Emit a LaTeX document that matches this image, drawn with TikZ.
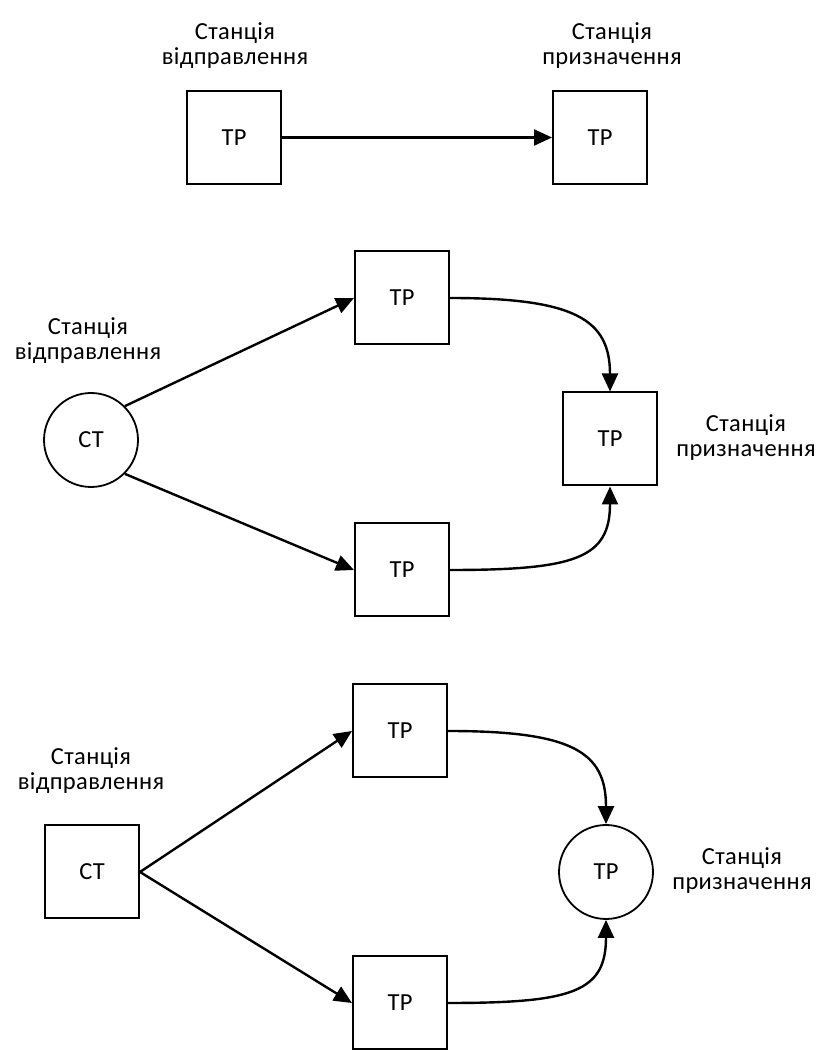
\documentclass[tikz,border=0pt]{standalone}
\usepackage{fontspec}
\setmainfont{Carlito}[LetterSpace=1.5]
\usetikzlibrary{arrows.meta}
\begin{document}
\begin{tikzpicture}[x=1pt,y=1pt,
  every node/.style={font=\fontsize{24.5}{25}\selectfont},
  sq/.style={draw,line width=2pt,minimum width=94pt,minimum height=93pt,inner sep=0pt},
  rnd/.style={draw,circle,line width=1.8pt,minimum size=94pt,inner sep=0pt},
  lbl/.style={align=center,inner sep=0pt},
  arr/.style={line width=2.4pt,-{Triangle[length=18pt,width=16pt]}},
  crv/.style={arr,out distance=125pt,in distance=72pt}]
\useasboundingbox (0,0) rectangle (821,1050);
% top
\node[sq] (a1) at (234,912.5) {TP};
\node[sq] (a2) at (600,912.5) {TP};
\node[lbl] (la1) at (235,1004) {Станція\\відправлення};
\node[lbl] (la2) at (612,1004) {Станція\\призначення};
\draw[arr] (a1.east) -- (a2.west);
% middle
\node[rnd] (ct1) at (91,610) {CT};
\node[sq] (b1) at (402,752) {TP};
\node[sq] (b2) at (402,480) {TP};
\node[sq] (b3) at (610,611) {TP};
\node[lbl] (lb1) at (88,709) {Станція\\відправлення};
\node[lbl] (lb2) at (746,612) {Станція\\призначення};
\draw[arr] (ct1.north east) -- (b1.west);
\draw[arr] (ct1.south east) -- (b2.west);
\draw[crv] (b1.east) to[out=0,in=90] (b3.north);
\draw[crv] (b2.east) to[out=0,in=-90] (b3.south);
% bottom
\node[sq] (ct2) at (92,178) {CT};
\node[sq] (c1) at (400,319) {TP};
\node[sq] (c2) at (400,47) {TP};
\node[rnd] (c3) at (606,178) {TP};
\node[lbl] (lc1) at (91,279) {Станція\\відправлення};
\node[lbl] (lc2) at (742,179) {Станція\\призначення};
\draw[arr] (ct2.east) -- (c1.west);
\draw[arr] (ct2.east) -- (c2.west);
\draw[crv] (c1.east) to[out=0,in=90] (c3.north);
\draw[crv] (c2.east) to[out=0,in=-90] (c3.south);
\end{tikzpicture}
\end{document}
